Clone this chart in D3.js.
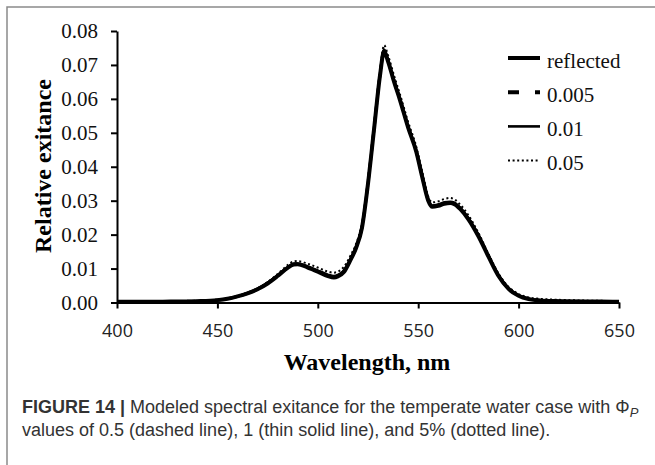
<!DOCTYPE html>
<html>
<head>
<meta charset="utf-8">
<script src="https://cdn.jsdelivr.net/npm/d3@7"></script>
<style>
  body { margin: 0; background: #fff; }
  svg { display: block; }
</style>
</head>
<body>
<svg id="chart"></svg>
<script>
// wavelengths (nm)
var wavelengths = [400, 410, 420, 430, 440, 450, 455, 460, 465, 470, 475, 480, 485, 488, 490,
    495, 500, 505, 508, 510, 513, 516, 519, 522, 525, 528, 531, 533, 535, 538, 541, 545,
    549, 552, 555, 557, 560, 563, 566, 568, 571, 575, 580, 585, 590, 595, 600, 605, 610,
    620, 630, 640, 650];

var reflected = [0.0002, 0.0002, 0.0002, 0.0003, 0.0004, 0.0007, 0.0011, 0.0018, 0.0027, 0.0039,
    0.0056, 0.0078, 0.0102, 0.0112, 0.0113, 0.0103, 0.0091, 0.0078, 0.0074, 0.0077, 0.0090,
    0.0122, 0.0160, 0.0220, 0.0350, 0.0510, 0.0670, 0.0740, 0.0710, 0.0650, 0.0595, 0.0515,
    0.0445, 0.0370, 0.0300, 0.0282, 0.0285, 0.0291, 0.0293, 0.0290, 0.0275, 0.0245, 0.0195,
    0.0135, 0.0078, 0.0040, 0.0020, 0.0010, 0.0006, 0.0004, 0.0003, 0.0003, 0.0002];

var phi005 = [0.0002, 0.0002, 0.0002, 0.0003, 0.0004, 0.0007, 0.0011, 0.0018, 0.0027, 0.0040,
    0.0057, 0.0079, 0.0103, 0.0113, 0.0114, 0.0104, 0.0092, 0.0080, 0.0076, 0.0079, 0.0092,
    0.0124, 0.0162, 0.0222, 0.0352, 0.0512, 0.0672, 0.0742, 0.0712, 0.0652, 0.0597, 0.0517,
    0.0447, 0.0372, 0.0302, 0.0284, 0.0287, 0.0293, 0.0295, 0.0292, 0.0277, 0.0247, 0.0197,
    0.0137, 0.0080, 0.0041, 0.0021, 0.0011, 0.0007, 0.0004, 0.0003, 0.0003, 0.0002];

var phi01 = [0.0002, 0.0002, 0.0002, 0.0003, 0.0004, 0.0007, 0.0011, 0.0018, 0.0028, 0.0040,
    0.0058, 0.0080, 0.0104, 0.0114, 0.0115, 0.0106, 0.0094, 0.0082, 0.0078, 0.0081, 0.0094,
    0.0126, 0.0164, 0.0224, 0.0354, 0.0514, 0.0674, 0.0745, 0.0715, 0.0655, 0.0600, 0.0520,
    0.0450, 0.0375, 0.0305, 0.0286, 0.0289, 0.0295, 0.0297, 0.0294, 0.0279, 0.0249, 0.0199,
    0.0138, 0.0081, 0.0042, 0.0021, 0.0011, 0.0007, 0.0005, 0.0004, 0.0003, 0.0003];

var phi05 = [0.0002, 0.0002, 0.0002, 0.0003, 0.0004, 0.0008, 0.0012, 0.0019, 0.0029, 0.0042,
    0.0060, 0.0084, 0.0110, 0.0121, 0.0122, 0.0114, 0.0103, 0.0091, 0.0088, 0.0091, 0.0105,
    0.0135, 0.0172, 0.0232, 0.0352, 0.0515, 0.0680, 0.0758, 0.0728, 0.0668, 0.0612, 0.0532,
    0.0460, 0.0385, 0.0312, 0.0295, 0.0298, 0.0305, 0.0308, 0.0304, 0.0288, 0.0257, 0.0205,
    0.0143, 0.0085, 0.0046, 0.0025, 0.0015, 0.0011, 0.0008, 0.0006, 0.0005, 0.0004];

var seriesNames = ["reflected", "0.005", "0.01", "0.05"];
var xTicks = [400, 450, 500, 550, 600, 650];
var yTicks = [0, 0.01, 0.02, 0.03, 0.04, 0.05, 0.06, 0.07, 0.08];

var width = 655, height = 465;
var serif = "'Liberation Serif', 'Times New Roman', serif";

var svg = d3.select("#chart")
        .attr("width", width)
        .attr("height", height);

// gray frame of the figure panel
svg.append("path")
        .attr("d", "M7,465V7H655")
        .attr("fill", "none")
        .attr("stroke", "#8a8a8a")
        .attr("stroke-width", 1.5);

var x = d3.scaleLinear().domain([400, 650]).range([117, 619]);
var y = d3.scaleLinear().domain([0, 0.08]).range([302.5, 31]);

var styles = {
    "reflected": {w: 4, dash: null},
    "0.005": {w: 4, dash: "11,16"},
    "0.01": {w: 2.6, dash: null},
    "0.05": {w: 2, dash: "2,2.6"}
};
var seriesData = {"reflected": reflected, "0.005": phi005, "0.01": phi01, "0.05": phi05};

var line = d3.line()
        .x(function (d) { return x(d[0]); })
        .y(function (d) { return y(d[1]); })
        .curve(d3.curveMonotoneX);

// dotted underneath, thick reflected on top
["0.05", "0.01", "0.005", "reflected"].forEach(function (name) {
    var pts = wavelengths.map(function (w, i) { return [w, seriesData[name][i]]; });
    svg.append("path")
            .datum(pts)
            .attr("d", line)
            .attr("fill", "none")
            .attr("stroke", "#000")
            .attr("stroke-width", name === "0.005" ? 3 : styles[name].w)
            .attr("stroke-dasharray", name === "0.005" ? "8,6" : styles[name].dash)
            .attr("stroke-linejoin", "round");
});

// axes
var yAxis = svg.append("g")
        .attr("transform", "translate(117,0)")
        .call(d3.axisLeft(y).tickValues(yTicks).tickFormat(d3.format(".2f")).tickSize(6).tickSizeOuter(0).tickPadding(13));
yAxis.select(".domain").attr("stroke-width", 2);
yAxis.selectAll(".tick line").attr("stroke-width", 2);
yAxis.selectAll("text")
        .attr("font-family", serif)
        .attr("font-size", 21)
        .attr("fill", "#111");

var xAxis = svg.append("g")
        .attr("transform", "translate(0,302.5)")
        .call(d3.axisBottom(x).tickValues(xTicks).tickSize(6).tickSizeOuter(0).tickPadding(16));
xAxis.select(".domain").attr("stroke-width", 2);
xAxis.selectAll(".tick line").attr("stroke-width", 2);
xAxis.selectAll("text")
        .attr("font-family", "'Open Sans', sans-serif")
        .attr("font-size", 18)
        .attr("fill", "#222");

// axis titles
svg.append("text")
        .attr("x", 367)
        .attr("y", 370)
        .attr("text-anchor", "middle")
        .attr("font-family", serif)
        .attr("font-weight", "bold")
        .attr("font-size", 24)
        .text("Wavelength, nm");

svg.append("text")
        .attr("transform", "translate(51,166) rotate(-90)")
        .attr("text-anchor", "middle")
        .attr("font-family", serif)
        .attr("font-weight", "bold")
        .attr("font-size", 24)
        .text("Relative exitance");

// legend
var legend = svg.selectAll(".legend")
        .data(seriesNames)
        .enter()
        .append("g")
        .attr("class", "legend")
        .attr("transform", function (d, i) { return "translate(508," + (58 + i * 34.2) + ")"; });

legend.append("line")
        .attr("x1", 0).attr("x2", 32)
        .attr("stroke", "#000")
        .attr("stroke-width", function (d) { return styles[d].w; })
        .attr("stroke-dasharray", function (d) { return styles[d].dash; });

legend.append("text")
        .attr("x", 39)
        .attr("y", 2.5)
        .attr("dominant-baseline", "central")
        .attr("font-family", serif)
        .attr("font-size", 21)
        .attr("fill", "#111")
        .text(function (d) { return d; });

// caption
var caption = svg.append("text")
        .attr("font-family", "'Liberation Sans', Arial, sans-serif")
        .attr("font-size", 18)
        .attr("fill", "#333");
var line1 = caption.append("tspan").attr("x", 22).attr("y", 413);
line1.append("tspan").attr("font-weight", "bold").text("FIGURE 14 | ");
line1.append("tspan").text("Modeled spectral exitance for the temperate water case with Φ");
line1.append("tspan").attr("font-style", "italic").attr("font-size", 13).attr("dy", 4).text("P");
caption.append("tspan").attr("x", 22).attr("y", 436)
        .text("values of 0.5 (dashed line), 1 (thin solid line), and 5% (dotted line).");
</script>
</body>
</html>
